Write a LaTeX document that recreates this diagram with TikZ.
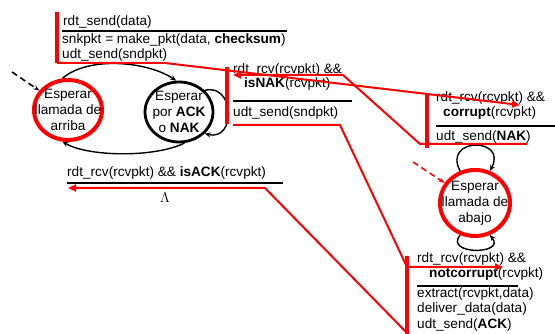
\documentclass[tikz,border=0pt]{standalone}
\usepackage{fontspec}
\setmainfont{Liberation Sans}
\usepackage{tikz}
\usetikzlibrary{arrows.meta,positioning,calc,backgrounds,shapes.geometric}
\definecolor{ink}{HTML}{000000}
\definecolor{hot}{HTML}{FF0000}

\begin{document}
\begin{tikzpicture}[x=1pt,y=1pt,font=\fontsize{13.6}{16}\selectfont,
    fsmstate/.style={ellipse,inner sep=0pt,minimum width=68pt,minimum height=60pt},
    stlabel/.style={align=center,inner sep=0pt,text=ink},
    txt/.style={anchor=base west,inner sep=0pt,text=ink},
    cond/.style={ink,line width=1.8pt},
    hotbar/.style={hot,line width=4.5pt},
    trail/.style={hot,line width=2pt},
    trailto/.style={trail,-{Triangle[length=8pt,width=7pt]}},
    trans/.style={ink,line width=1.4pt,-{Stealth[length=6pt,width=5pt]}}]
    \useasboundingbox (0,0) rectangle (555,334);

    % states
    \node[fsmstate,draw=hot,line width=4pt] (arriba) at (68,224) {};
    \node[stlabel] (arribaTxt) at (arriba) {Esperar\\llamada de\\arriba};
    \node[fsmstate,draw=ink,line width=2.8pt] (ackNak) at (179,222) {};
    \node[stlabel] (ackNakTxt) at (ackNak) {Esperar\\por \textbf{ACK}\\o \textbf{NAK}};
    \node[fsmstate,draw=hot,line width=4pt,minimum width=70pt,minimum height=66pt] (abajo) at (475,131) {};
    \node[stlabel] (abajoTxt) at (abajo) {Esperar\\llamada de\\abajo};

    % transitions of the FSM
    \begin{scope}[on background layer]
      \draw[trans] (arriba.100) .. controls +(25,22) and +(-30,20) .. (ackNak.95);
      \draw[trans] (ackNak.-80) .. controls +(-30,-15) and +(25,-15) .. (arriba.-100);
      \draw[trans] (ackNak.40) .. controls +(30,8) and +(32,-8) .. (ackNak.-40);
      \draw[trans] (abajo.115) .. controls +(-18,34) and +(18,34) .. (abajo.65);
      \draw[trans] (abajo.-115) .. controls +(-16,-20) and +(16,-20) .. (abajo.-65);
    \end{scope}
    \coordinate (initTop) at (12,262);
    \draw[ink,line width=1.6pt,dash pattern=on 6pt off 4pt,-{Stealth[length=6pt]}] (initTop) -- (arriba);
    \coordinate (initBot) at (413,172);
    \draw[hot,line width=1.6pt,dash pattern=on 6pt off 4pt,-{Stealth[length=6pt]}] (initBot) -- (abajo);

    % sender: rdt_send
    \node[txt] (sendEv) at (63,308) {rdt\_send(data)};
    \draw[cond] (62,303) -- (287,303);
    \node[txt] (sendAct) at (62,290) {snkpkt = make\_pkt(data, \textbf{checksum})};
    \node[txt] (sendOut) at (62,275) {udt\_send(sndpkt)};

    % sender: isNAK
    \node[txt] (nakEv) at (233,260) {rdt\_rcv(rcvpkt) \&\&};
    \node[txt] (nakEvB) at (244,246) {\textbf{isNAK}(rcvpkt)};
    \draw[cond] (233,233) -- (352,233);
    \node[txt] (nakOut) at (233,217) {udt\_send(sndpkt)};

    % sender: isACK
    \node[txt] (ackEv) at (67,157) {rdt\_rcv(rcvpkt) \&\& \textbf{isACK}(rcvpkt)};
    \draw[cond] (67,151) -- (283,151);
    \node (lambda) at (165,136) {$\Lambda$};

    % receiver: corrupt
    \node[txt] (corEv) at (436,232) {rdt\_rcv(rcvpkt) \&\&};
    \node[txt] (corEvB) at (443,217) {\textbf{corrupt}(rcvpkt)};
    \draw[cond] (436,208) -- (555,208);
    \node[txt] (corOut) at (436,193) {udt\_send(\textbf{NAK})};

    % receiver: notcorrupt
    \node[txt] (okEv) at (417,71) {rdt\_rcv(rcvpkt) \&\&};
    \node[txt] (okEvB) at (429,56) {\textbf{notcorrupt}(rcvpkt)};
    \draw[cond] (417,48) -- (518,48);
    \node[txt] (okOut) at (417,36) {extract(rcvpkt,data)};
    \node[txt] (okOutB) at (417,21) {deliver\_data(data)};
    \node[txt] (okOutC) at (417,5) {udt\_send(\textbf{ACK})};

    % red trace
    \draw[hotbar] (57,322) -- (57,271);
    \draw[hotbar] (227,267) -- (227,210);
    \draw[hotbar] (427,239) -- (427,186);
    \draw[hotbar] (407,78) -- (407,0);
    \draw[trailto] (57,271) -- (165,271) -- (520,229);
    \draw[trailto] (527,190) -- (420,190) -- (343,259) -- (233,259);
    \draw[trailto] (233,209) -- (340,209) -- (407,67) -- (503,67);
    \draw[trailto] (407,1) -- (265,146) -- (68,146);
\end{tikzpicture}
\end{document}
